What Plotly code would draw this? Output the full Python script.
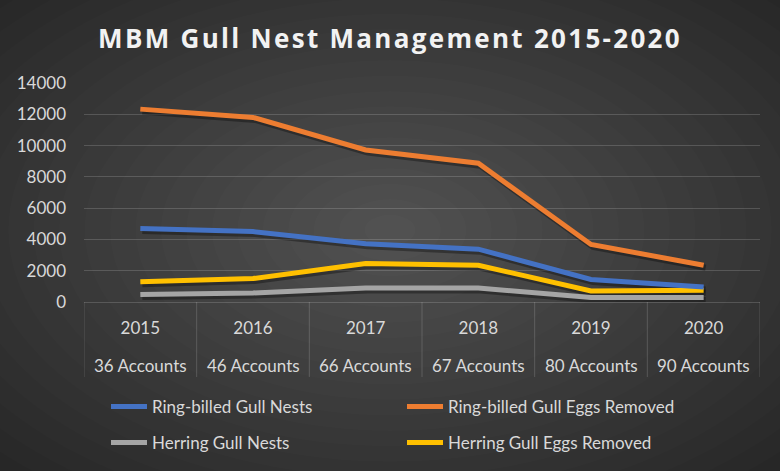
import plotly.graph_objects as go

years = ["2015", "2016", "2017", "2018", "2019", "2020"]
accounts = ["36 Accounts", "46 Accounts", "66 Accounts", "67 Accounts", "80 Accounts", "90 Accounts"]

ring_nests = [4700, 4500, 3720, 3380, 1440, 960]
ring_eggs = [12330, 11800, 9720, 8870, 3680, 2350]
herring_nests = [480, 580, 900, 890, 290, 290]
herring_eggs = [1290, 1500, 2460, 2350, 710, 750]

series = [
    ("Ring-billed Gull Nests", ring_nests, "#4472C4", "legend"),
    ("Ring-billed Gull Eggs Removed", ring_eggs, "#ED7D31", "legend"),
    ("Herring Gull Nests", herring_nests, "#A5A5A5", "legend2"),
    ("Herring Gull Eggs Removed", herring_eggs, "#FFC000", "legend2"),
]

W, H = 780, 471
L, R, T, B = 84, 20, 83, 169
pw, ph = W - L - R, H - T - B
YMAX = 14000

def px_x(px):
    return (px - L) / pw

def px_y(py):
    return (H - B - py) / ph

fig = go.Figure()
order = [2, 3, 0, 1]
# soft shadows, on twin axes shifted a couple of pixels down/right
for i in order:
    name, vals, col, lg = series[i]
    fig.add_trace(go.Scatter(
        x=years, y=vals, mode="lines", showlegend=False, hoverinfo="skip",
        xaxis="x2", yaxis="y2",
        line=dict(color="rgba(0,0,0,0.33)", width=6),
    ))
# the coloured lines, on unshifted twin axes drawn above the shadows
for i in order:
    name, vals, col, lg = series[i]
    fig.add_trace(go.Scatter(
        x=years, y=vals, name=name, mode="lines",
        xaxis="x3", yaxis="y3",
        line=dict(color=col, width=5),
        legend=lg,
        legendrank=i,
    ))

shapes = []
cx, cy = 390, 230
N = 22
for k in range(N):
    f = 1 - k / N
    rx, ry = 560 * f, 340 * f
    shapes.append(dict(
        type="circle", xref="paper", yref="paper", layer="below",
        x0=px_x(cx - rx), x1=px_x(cx + rx),
        y0=px_y(cy + ry), y1=px_y(cy - ry),
        fillcolor="rgba(255,255,255,0.011)", line=dict(width=0),
    ))

for i in range(len(years) + 1):
    shapes.append(dict(
        type="line", xref="x", yref="paper", layer="below",
        x0=i - 0.5, x1=i - 0.5, y0=0, y1=px_y(377),
        line=dict(color="rgba(255,255,255,0.16)", width=1),
    ))

annotations = []
for i, acc in enumerate(accounts):
    annotations.append(dict(
        x=i, xref="x", y=px_y(365), yref="paper", yanchor="middle", xanchor="center",
        text=acc, showarrow=False,
        font=dict(family="Lato", size=17, color="#D9D9D9"),
    ))

dx = 2.0 / (pw / 6)          # 2 px in category units
dy = 2.5 / ph * YMAX          # 2.5 px in value units

legend_common = dict(
    orientation="h", xanchor="left", yanchor="middle",
    entrywidth=245, entrywidthmode="pixels", itemwidth=36,
    font=dict(family="Lato", size=17, color="#D9D9D9"),
    bgcolor="rgba(0,0,0,0)", traceorder="normal",
)

fig.update_layout(
    width=W, height=H,
    margin=dict(l=L, r=R, t=T, b=B, autoexpand=False),
    paper_bgcolor="#252525",
    plot_bgcolor="rgba(0,0,0,0)",
    shapes=shapes,
    annotations=annotations,
    title=dict(
        text='<span style="letter-spacing:2.3px">MBM Gull Nest Management 2015-2020</span>',
        x=0.5, xanchor="center", y=1 - 39 / H, yanchor="middle", yref="container",
        font=dict(family="Open Sans", size=26, color="#F2F2F2", weight=700),
    ),
    xaxis=dict(
        type="category", range=[-0.5, 5.5], categoryarray=years,
        showgrid=False, zeroline=False, showline=False,
        ticks="", ticklabelstandoff=14,
        tickfont=dict(family="Lato", size=17, color="#D9D9D9"),
    ),
    xaxis2=dict(
        type="category", categoryarray=years, range=[-0.5 - dx, 5.5 - dx],
        overlaying="x", visible=False,
    ),
    xaxis3=dict(
        type="category", categoryarray=years, range=[-0.5, 5.5],
        overlaying="x", visible=False,
    ),
    yaxis=dict(
        range=[0, YMAX], dtick=2000, tickformat="d",
        showgrid=True, gridcolor="rgba(255,255,255,0.16)", gridwidth=1,
        zeroline=True, zerolinecolor="rgba(255,255,255,0.16)", zerolinewidth=1,
        showline=False, ticks="", ticklabelstandoff=17,
        tickfont=dict(family="Lato", size=17, color="#D9D9D9"),
    ),
    yaxis2=dict(range=[dy, YMAX + dy], overlaying="y", visible=False),
    yaxis3=dict(range=[0, YMAX], overlaying="y", visible=False),
    legend=dict(x=px_x(106), y=px_y(407), **legend_common),
    legend2=dict(x=px_x(106), y=px_y(443), **legend_common),
    showlegend=True,
)

fig.write_html("out.html", config={"displayModeBar": False},
               post_script="document.body.style.margin='0';")
